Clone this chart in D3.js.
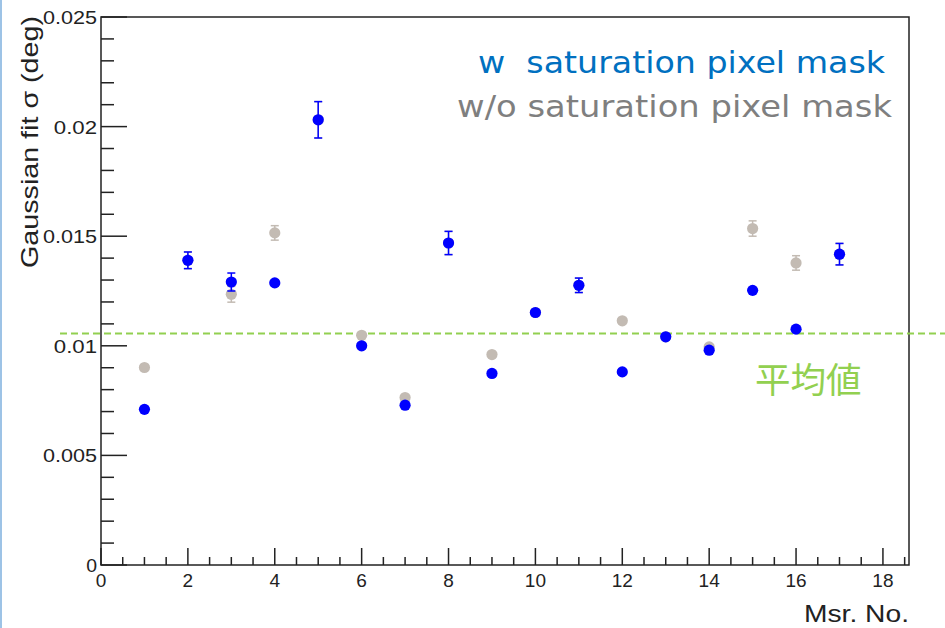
<!DOCTYPE html>
<html>
<head>
<meta charset="utf-8">
<script src="https://cdn.jsdelivr.net/npm/d3@7"></script>
<style>
  html, body { margin: 0; padding: 0; background: #fff; }
  svg { display: block; font-family: "Liberation Sans", Arial, sans-serif; }
</style>
</head>
<body>
<svg id="chart" width="945" height="628"></svg>
<script>
// ---- data ----
const msrNo = [1,2,3,4,5,6,7,8,9,10,11,12,13,14,15,16,17];
const withMask = [0.00710,0.01390,0.01291,0.01287,0.02031,0.01000,0.00729,0.01469,0.00874,0.01152,0.01276,0.00881,0.01041,0.00980,0.01253,0.01076,0.01418];
const withMaskErr = [0.0001,0.00038,0.00041,0.00012,0.00083,0.0001,0.0001,0.00053,0.0001,0.0001,0.00033,0.0001,0.0001,0.0001,0.0001,0.0001,0.00049];
const withoutMask = [0.00901,0.01390,0.01235,0.01515,0.02031,0.01048,0.00764,0.01469,0.00960,0.01152,0.01276,0.01114,0.01041,0.00995,0.01535,0.01378,0.01418];
const withoutMaskErr = [0.0001,0.00038,0.00036,0.00033,0.00083,0.0001,0.0001,0.00053,0.0001,0.0001,0.00033,0.0001,0.0001,0.0001,0.00035,0.00033,0.00049];
const meanValue = 0.01056;
const yTickLabels = ["0","0.005","0.01","0.015","0.02","0.025"];
const xTickLabels = ["0","2","4","6","8","10","12","14","16","18"];
const legendLabels = ["w  saturation pixel mask","w/o saturation pixel mask"];
const meanLabel = "平均値";
const xTitle = "Msr. No.";
const yTitle = "Gaussian fit σ (deg)";

// ---- layout ----
const svg = d3.select("#chart");
const L = 101, R = 909, T = 17, B = 565;
const x = d3.scaleLinear().domain([0, 18.6]).range([L, R]);
const y = d3.scaleLinear().domain([0, 0.025]).range([B, T]);

// slide border line
svg.append("rect").attr("x",0).attr("y",0).attr("width",2).attr("height",628).attr("fill","#9dc3e6");

// frame
svg.append("rect").attr("x",L).attr("y",T).attr("width",R-L).attr("height",B-T)
  .attr("fill","none").attr("stroke","#222").attr("stroke-width",1.5);

// y ticks
const yMinor = d3.range(0, 0.02501, 0.001);
svg.append("g").selectAll("line").data(yMinor).join("line")
  .attr("x1", L).attr("x2", (d,i) => i % 5 === 0 ? L + 26 : L + 13)
  .attr("y1", d => y(d)).attr("y2", d => y(d))
  .attr("stroke","#222").attr("stroke-width",1.5);
svg.append("g").selectAll("text").data(yTickLabels).join("text")
  .attr("x", L - 4).attr("y", d => y(+d) + 7)
  .attr("text-anchor","end").attr("font-size",19).attr("fill","#222")
  .attr("textLength", d => d.length * 10.8).attr("lengthAdjust","spacingAndGlyphs")
  .text(d => d);

// x ticks
const xMinor = d3.range(0, 18.51, 0.5);
svg.append("g").selectAll("line").data(xMinor).join("line")
  .attr("x1", d => x(d)).attr("x2", d => x(d))
  .attr("y1", B).attr("y2", (d,i) => i % 4 === 0 ? B - 17 : B - 8)
  .attr("stroke","#222").attr("stroke-width",1.5);
svg.append("g").selectAll("text").data(xTickLabels).join("text")
  .attr("x", d => x(+d)).attr("y", B + 22)
  .attr("text-anchor","middle").attr("font-size",19).attr("fill","#222")
  .text(d => d);

// axis titles
svg.append("text").attr("x", R).attr("y", 622).attr("text-anchor","end")
  .attr("font-size",23).attr("fill","#222")
  .attr("textLength",105).attr("lengthAdjust","spacingAndGlyphs").text(xTitle);
svg.append("text").attr("transform","translate(38,16) rotate(-90)")
  .attr("text-anchor","end").attr("font-size",24).attr("fill","#222")
  .attr("textLength",252).attr("lengthAdjust","spacingAndGlyphs")
  .text(yTitle);

// mean line
svg.append("line").attr("x1",60).attr("x2",945).attr("y1",y(meanValue)).attr("y2",y(meanValue))
  .attr("stroke","#92d050").attr("stroke-width",2).attr("stroke-dasharray","7,4");
svg.append("text").attr("x",755).attr("y",393).attr("font-size",35.5)
  .style("font-family","'Noto Sans CJK JP', sans-serif").attr("fill","#92d050").text(meanLabel);

// series drawing
function drawSeries(vals, errs, color) {
  const g = svg.append("g");
  const pts = msrNo.map((m,i) => ({m, v: vals[i], e: errs[i]}));
  g.selectAll("line.eb").data(pts).join("line").attr("class","eb")
    .attr("x1", d => x(d.m)).attr("x2", d => x(d.m))
    .attr("y1", d => y(d.v - d.e)).attr("y2", d => y(d.v + d.e))
    .attr("stroke", color).attr("stroke-width",1.5);
  ["lo","hi"].forEach(k => {
    g.selectAll("line.cap"+k).data(pts).join("line").attr("class","cap"+k)
      .attr("x1", d => x(d.m) - 4).attr("x2", d => x(d.m) + 4)
      .attr("y1", d => y(k==="lo" ? d.v - d.e : d.v + d.e))
      .attr("y2", d => y(k==="lo" ? d.v - d.e : d.v + d.e))
      .attr("stroke", color).attr("stroke-width",1.5);
  });
  g.selectAll("circle").data(pts).join("circle")
    .attr("cx", d => x(d.m)).attr("cy", d => y(d.v)).attr("r",5.6)
    .attr("fill", color);
}
drawSeries(withoutMask, withoutMaskErr, "#c3bbb3");
drawSeries(withMask, withMaskErr, "#0000ff");

// legend
const leg = svg.append("g").style("font-family","'DejaVu Sans', Verdana, sans-serif").attr("font-size",30);
leg.append("text").attr("x",885).attr("y",73).attr("text-anchor","end").attr("fill","#0070c0")
  .style("white-space","pre").attr("textLength",407).attr("lengthAdjust","spacingAndGlyphs").text(legendLabels[0]);
leg.append("text").attr("x",892).attr("y",117).attr("text-anchor","end").attr("fill","#7f7f7f")
  .attr("textLength",435).attr("lengthAdjust","spacingAndGlyphs").text(legendLabels[1]);
</script>
</body>
</html>
